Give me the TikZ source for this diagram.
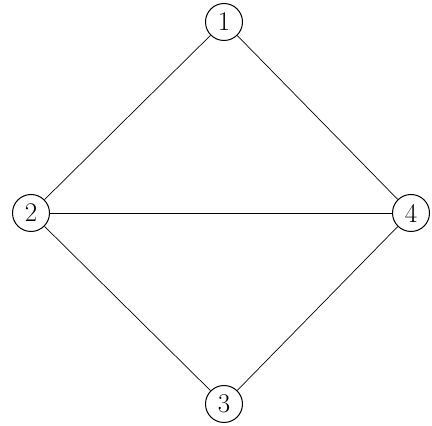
\documentclass[tikz,border=0pt]{standalone}
\usepackage{fontspec}
\usepackage{amssymb}
\usepackage{amsmath}

\begin{document}
\begin{tikzpicture}[x=1pt,y=1pt]
  \tikzset{vertex/.style = {draw,circle,line width=1pt,minimum size=37pt,inner sep=0pt,font=\fontsize{27}{30}\selectfont}}
  \tikzset{edge/.style = {-,line width=0.7pt}}

\useasboundingbox (0,0) rectangle (432,426);

\node[vertex] (v1)  at (224,404) {1};
\node[vertex] (v2)  at (31,213) {2};
\node[vertex] (v4)  at (411,213) {4};
\node[vertex] (v3)  at (224,22) {3};

    \path (v1) edge[edge] (v2);
    \path (v1) edge[edge] (v4);
    \path (v2) edge[edge] (v4);
    \path (v2) edge[edge] (v3);
    \path (v4) edge[edge] (v3);

\end{tikzpicture}
\end{document}
